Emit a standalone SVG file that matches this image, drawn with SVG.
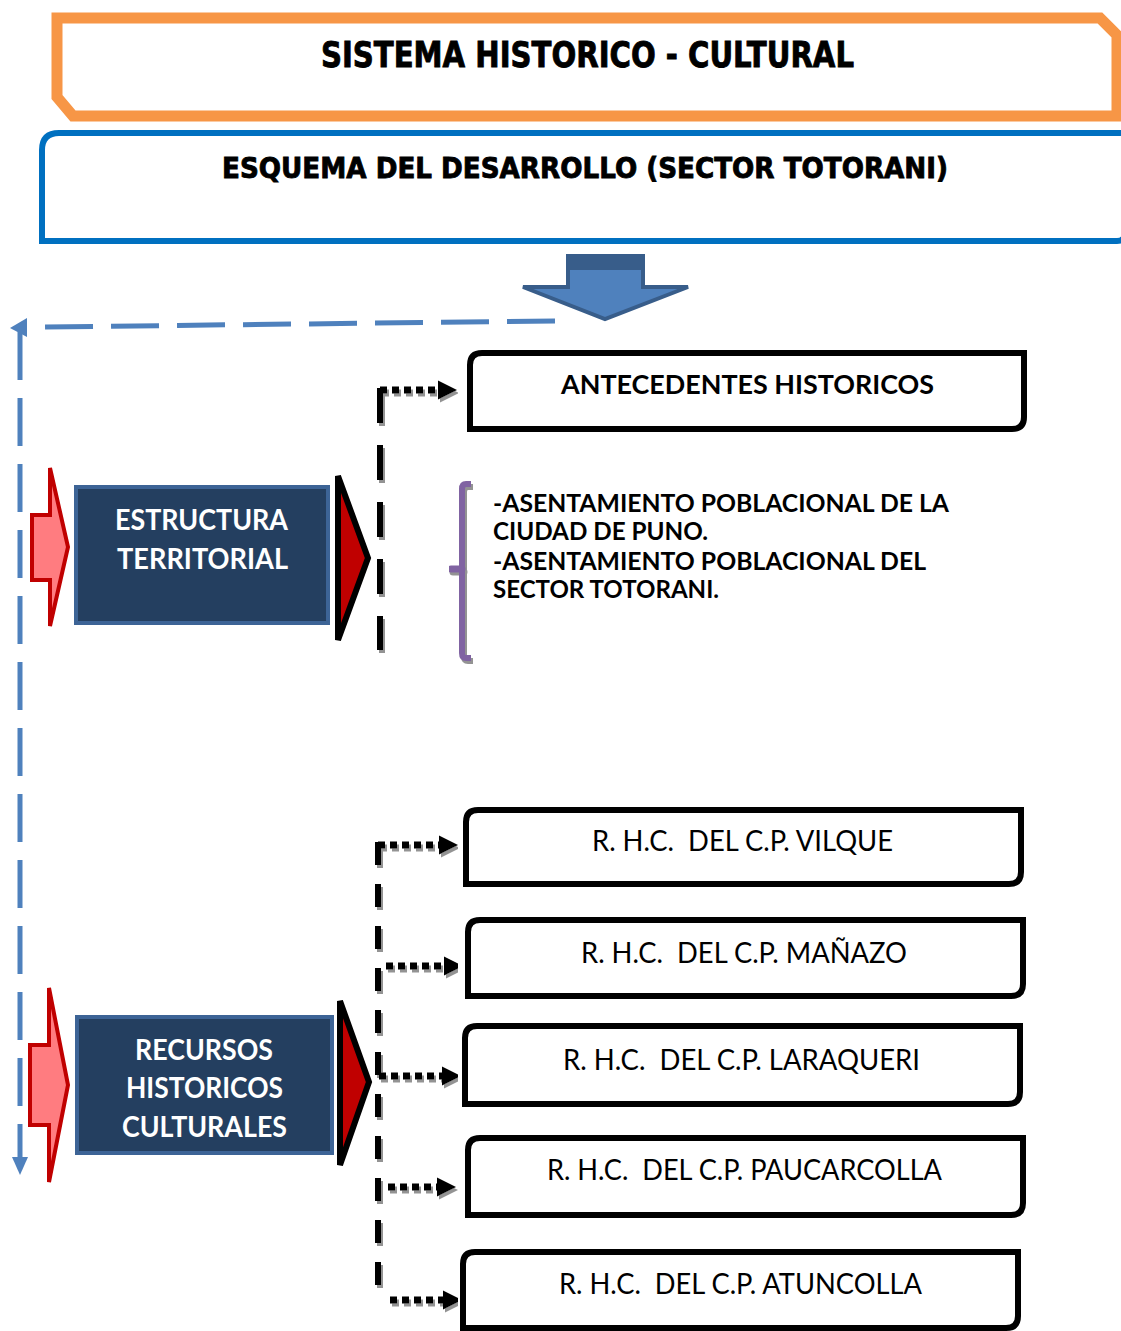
<svg xmlns="http://www.w3.org/2000/svg" width="1121" height="1331" viewBox="0 0 1121 1331">
  <style>
    .title { font-family: "DejaVu Sans", "Liberation Sans", sans-serif; font-weight: bold; fill: #000; stroke: #000; stroke-width: 0.9; }
    .lbl { font-family: Lato, "Open Sans", "Liberation Sans", sans-serif; font-weight: bold; font-size: 29px; fill: #fff; }
    .hdr { font-family: Lato, "Open Sans", "Liberation Sans", sans-serif; font-weight: bold; font-size: 27px; fill: #000; }
    .bul { font-family: Lato, "Open Sans", "Liberation Sans", sans-serif; font-weight: bold; font-size: 24px; fill: #000; }
    .rhc { font-family: Lato, "Open Sans", "Liberation Sans", sans-serif; font-weight: normal; font-size: 28px; fill: #000; }
    .box { fill: #fff; stroke: #000; stroke-width: 6; }
    .navy { fill: #243f60; stroke: #3d6496; stroke-width: 4; }
    .pink { fill: #ff7c80; stroke: #c00000; stroke-width: 4; stroke-linejoin: miter; }
    .tri { fill: #c00000; stroke: #000; stroke-width: 6; stroke-linejoin: miter; }
    .vdash1 { fill: none; stroke: #000; stroke-width: 6; stroke-dasharray: 35 22; }
    .vdash2 { fill: none; stroke: #000; stroke-width: 6; stroke-dasharray: 23 19; }
    .dot { fill: none; stroke: #000; stroke-width: 7; stroke-dasharray: 7 5; marker-end: url(#ah); }
    .bdash { fill: none; stroke: #4f81bd; stroke-width: 5; stroke-dasharray: 48 18; }
  </style>
  <defs>
    <marker id="ah" markerUnits="userSpaceOnUse" markerWidth="20" markerHeight="20" refX="0" refY="9.5" orient="auto" viewBox="0 0 20 19">
      <path d="M0,0 L19,9.5 L0,19 Z" fill="#000"/>
    </marker>
    <filter id="sh" x="-10%" y="-10%" width="130%" height="130%">
      <feDropShadow dx="2" dy="3" stdDeviation="0.6" flood-color="#808080" flood-opacity="0.85"/>
    </filter>
  </defs>

  <!-- Header frames -->
  <g id="titulo">
    <path d="M57,18 H1100 L1117,35 V116 H73 L57,97 Z" fill="#fff" stroke="#f79646" stroke-width="11" stroke-linejoin="miter"/>
    <text class="title" x="321" y="67" font-size="35" textLength="533" lengthAdjust="spacingAndGlyphs">SISTEMA HISTORICO - CULTURAL</text>
  </g>
  <g id="esquema">
    <path d="M42,241 V150 Q42,133 59,133 H1125 V233 Q1125,241 1117,241 Z" fill="#fff" stroke="#0070c0" stroke-width="6"/>
    <text class="title" x="222" y="178" font-size="29" textLength="726" lengthAdjust="spacingAndGlyphs">ESQUEMA DEL DESARROLLO (SECTOR TOTORANI)</text>
  </g>
  <g id="flecha-abajo">
    <polygon points="568,256 643,256 643,287 688,287 605,319 523,287 568,287" fill="#4f81bd" stroke="#385d8a" stroke-width="4" stroke-linejoin="miter"/>
    <rect x="568" y="256" width="75" height="14" fill="#385d8a"/>
  </g>

  <!-- Connectors -->
  <g id="connectors">
    <g id="retorno">
      <path class="bdash" d="M555,321 L44,327"/>
      <polygon points="10,328 27,318 27,337" fill="#4f81bd"/>
      <path class="bdash" d="M20,332 V1158"/>
      <polygon points="12,1157 28,1157 20,1175" fill="#4f81bd"/>
    </g>
    <g id="ramas" filter="url(#sh)">
      <path class="vdash1" d="M380,388 V650"/>
      <path class="dot" d="M380,390 H438"/>
      <path class="vdash2" d="M378,842 V1286"/>
      <path class="dot" d="M378,845 H439"/>
      <path class="dot" d="M386,966 H444"/>
      <path class="dot" d="M379,1076 H442"/>
      <path class="dot" d="M388,1187 H437"/>
      <path class="dot" d="M390,1300 H443"/>
    </g>
  </g>

  <!-- Estructura territorial -->
  <g id="estructura-territorial">
    <polygon class="pink" points="32,515 50,515 50,468 68,547 50,626 50,580 32,580"/>
    <rect class="navy" x="76" y="487" width="252" height="136"/>
    <text class="lbl" x="115" y="530" textLength="173" lengthAdjust="spacingAndGlyphs">ESTRUCTURA</text>
    <text class="lbl" x="117" y="569" textLength="171" lengthAdjust="spacingAndGlyphs">TERRITORIAL</text>
    <polygon class="tri" points="338,476 368,558 338,640"/>
  </g>

  <g id="antecedentes-historicos">
    <path class="box" d="M482,353 H1024 V417 Q1024,429 1012,429 H470 V365 Q470,353 482,353 Z"/>
    <text class="hdr" x="561" y="394" textLength="373" lengthAdjust="spacingAndGlyphs">ANTECEDENTES HISTORICOS</text>
  </g>

  <g id="asentamientos">
    <g filter="url(#sh)">
      <path d="M471,484 H466 Q462,484 462,489 V653 Q462,658 466,658 H471" fill="none" stroke="#8064a2" stroke-width="6"/>
      <path d="M451,569 H462" fill="none" stroke="#8064a2" stroke-width="7" stroke-linecap="round"/>
    </g>
    <text class="bul" x="493" y="512" textLength="456" lengthAdjust="spacingAndGlyphs">-ASENTAMIENTO POBLACIONAL DE LA</text>
    <text class="bul" x="493" y="540" textLength="215" lengthAdjust="spacingAndGlyphs">CIUDAD DE PUNO.</text>
    <text class="bul" x="493" y="570" textLength="433" lengthAdjust="spacingAndGlyphs">-ASENTAMIENTO POBLACIONAL DEL</text>
    <text class="bul" x="493" y="598" textLength="226" lengthAdjust="spacingAndGlyphs">SECTOR TOTORANI.</text>
  </g>

  <!-- Recursos historicos culturales -->
  <g id="recursos-historicos-culturales">
    <polygon class="pink" points="30,1045 49,1045 49,988 68,1085 49,1182 49,1125 30,1125"/>
    <rect class="navy" x="77" y="1017" width="255" height="136"/>
    <text class="lbl" x="135" y="1060" textLength="138" lengthAdjust="spacingAndGlyphs">RECURSOS</text>
    <text class="lbl" x="126" y="1098" textLength="157" lengthAdjust="spacingAndGlyphs">HISTORICOS</text>
    <text class="lbl" x="122" y="1137" textLength="165" lengthAdjust="spacingAndGlyphs">CULTURALES</text>
    <polygon class="tri" points="340,1001 369,1082 340,1165"/>
  </g>

  <g id="rhc-vilque">
    <path class="box" d="M478,810 H1021 V872 Q1021,884 1009,884 H466 V822 Q466,810 478,810 Z"/>
    <text class="rhc" x="592" y="851" textLength="301" lengthAdjust="spacingAndGlyphs" xml:space="preserve">R. H.C.  DEL C.P. VILQUE</text>
  </g>
  <g id="rhc-manazo">
    <path class="box" d="M480,920 H1023 V984 Q1023,996 1011,996 H468 V932 Q468,920 480,920 Z"/>
    <text class="rhc" x="581" y="963" textLength="326" lengthAdjust="spacingAndGlyphs" xml:space="preserve">R. H.C.  DEL C.P. MAÑAZO</text>
  </g>
  <g id="rhc-laraqueri">
    <path class="box" d="M477,1026 H1020 V1092 Q1020,1104 1008,1104 H465 V1038 Q465,1026 477,1026 Z"/>
    <text class="rhc" x="563" y="1070" textLength="357" lengthAdjust="spacingAndGlyphs" xml:space="preserve">R. H.C.  DEL C.P. LARAQUERI</text>
  </g>
  <g id="rhc-paucarcolla">
    <path class="box" d="M480,1138 H1023 V1203 Q1023,1215 1011,1215 H468 V1150 Q468,1138 480,1138 Z"/>
    <text class="rhc" x="547" y="1180" textLength="395" lengthAdjust="spacingAndGlyphs" xml:space="preserve">R. H.C.  DEL C.P. PAUCARCOLLA</text>
  </g>
  <g id="rhc-atuncolla">
    <path class="box" d="M475,1252 H1018 V1316 Q1018,1328 1006,1328 H463 V1264 Q463,1252 475,1252 Z"/>
    <text class="rhc" x="559" y="1294" textLength="363" lengthAdjust="spacingAndGlyphs" xml:space="preserve">R. H.C.  DEL C.P. ATUNCOLLA</text>
  </g>
</svg>
